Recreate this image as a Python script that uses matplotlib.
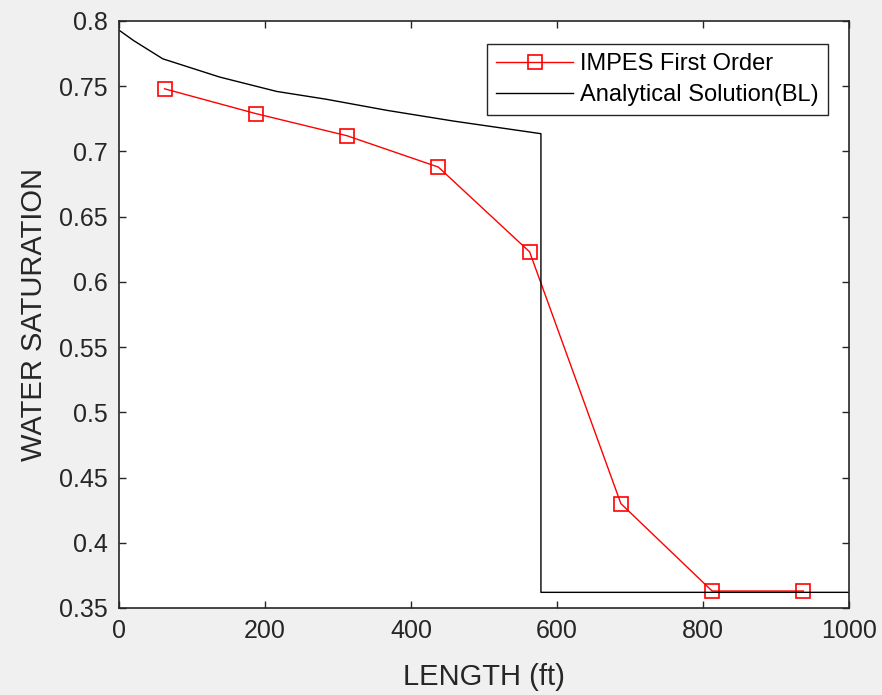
import numpy as np
import matplotlib.pyplot as plt

plt.rcParams['font.family'] = ['Liberation Sans', 'DejaVu Sans']

# IMPES first-order numerical solution (cell centres)
x_impes = [62.5, 187.5, 312.5, 437.5, 562.5, 687.5, 812.5, 937.5]
sw_impes = [0.748, 0.729, 0.712, 0.688, 0.623, 0.430, 0.363, 0.363]

# Buckley-Leverett analytical profile
x_bl = [0, 10, 20, 60, 138, 216, 284, 367, 458, 578, 578, 1000]
sw_bl = [0.793, 0.789, 0.785, 0.771, 0.757, 0.746, 0.740, 0.7315, 0.7233, 0.7136, 0.362, 0.362]

gray = (0.15, 0.15, 0.15)

fig = plt.figure(figsize=(8.82, 6.95), dpi=100, facecolor='#f0f0f0')
ax = fig.add_axes([0.1349, 0.1252, 0.8277, 0.8446])

ax.plot(x_impes, sw_impes, color='red', lw=1.0, marker='s', markersize=9.5,
        markerfacecolor='none', markeredgecolor='red', markeredgewidth=1.2,
        label='IMPES First Order')
ax.plot(x_bl, sw_bl, color='black', lw=1.0, label='Analytical Solution(BL)')

ax.set_xlim(0, 1000)
ax.set_ylim(0.35, 0.8)
ax.set_xticks([0, 200, 400, 600, 800, 1000])
ax.set_yticks(np.arange(0.35, 0.801, 0.05))
ax.set_yticklabels(['0.35', '0.4', '0.45', '0.5', '0.55', '0.6', '0.65', '0.7', '0.75', '0.8'])

ax.tick_params(direction='in', top=True, right=True, length=5, width=1,
               color=gray, labelcolor=gray, labelsize=18, pad=8)
for s in ax.spines.values():
    s.set_color(gray)
    s.set_linewidth(1.2)

ax.set_xlabel('LENGTH (ft)', fontsize=21, color=gray, labelpad=14)
ax.set_ylabel('WATER SATURATION', fontsize=21, color=gray, labelpad=8)

leg = ax.legend(loc='upper right', bbox_to_anchor=(0.971, 0.961), borderaxespad=0,
                fontsize=17, frameon=True, fancybox=False, edgecolor=gray, framealpha=1,
                handlelength=3.25, handletextpad=0.3, borderpad=0.38, labelspacing=0.4)
leg.get_frame().set_linewidth(1.0)

fig.savefig('out.png', dpi=100, facecolor=fig.get_facecolor())
